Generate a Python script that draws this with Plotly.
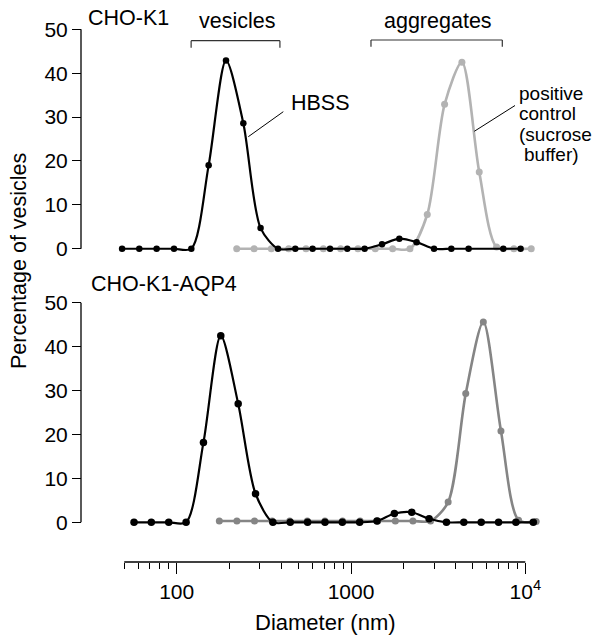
import plotly.graph_objects as go

# The page body adds an 8 px margin, so the figure is drawn 8 px in from the
# top-left corner of the 602x636 window; size the figure to fill the rest.
OFF = 8
W, H = 602 - OFF, 636 - OFF

# ---------------- data ----------------
# Upper panel: CHO-K1
k1_hbss_diam = [48.6, 61.0, 76.7, 96.5, 121.3, 152.5, 191.8, 241.1, 302.9, 381.2,
                479, 602, 758, 952, 1197, 1506, 1893, 2379, 2994, 3763, 4728,
                7477, 9397]
k1_hbss_pct = [0, 0, 0, 0, 0, 19.0, 42.9, 28.6, 4.7, 0,
               0, 0, 0, 0, 0, 1.0, 2.3, 1.5, 0, 0, 0,
               0, 0]
k1_ctrl_diam = [221, 278, 349, 439, 552, 694, 872, 1096, 1378, 1733,
                2179, 2739, 3443, 4329, 5442, 6842, 8602, 10815]
k1_ctrl_pct = [0, 0, 0, 0, 0, 0, 0, 0, 0, 0,
               0, 7.8, 32.9, 42.5, 17.5, 0.4, 0, 0]

# Lower panel: CHO-K1-AQP4
aqp4_hbss_diam = [56.9, 71.5, 90.0, 113.2, 142.4, 179, 225.3, 283.3, 356.3, 448.2,
                  563.6, 709, 891.7, 1121, 1410, 1774, 2231, 2806, 3529, 4439,
                  5585, 7024, 8834, 11111]
aqp4_hbss_pct = [0, 0, 0, 0, 18.2, 42.5, 27.0, 6.5, 0, 0,
                 0, 0, 0, 0, 0.3, 2.0, 2.3, 0.8, 0, 0,
                 0, 0, 0, 0]
aqp4_ctrl_diam = [175.6, 221.5, 279.5, 352.7, 445, 561.5, 708.6, 894, 1128, 1423,
                  1796, 2266, 2860, 3609, 4553, 5745, 7250, 9150, 11545]
aqp4_ctrl_pct = [0.3, 0.3, 0.3, 0.3, 0.3, 0.3, 0.3, 0.3, 0.3, 0.3,
                 0.3, 0.3, 0.3, 4.6, 29.3, 45.6, 20.8, 0.5, 0.2]

x_major = [100, 1000, 10000]
x_major_text = ["100", "1000", "10<sup>4</sup>"]
x_minor = [50, 60, 70, 80, 90, 200, 300, 400, 500, 600, 700, 800, 900,
           2000, 3000, 4000, 5000, 6000, 7000, 8000, 9000]
y_ticks = [0, 10, 20, 30, 40, 50]

# ---------------- styling ----------------
FONT = "Liberation Sans, Arial, Helvetica, sans-serif"
LIGHT_GRAY = "#b3b3b3"
MID_GRAY = "#858585"

fig = go.Figure()

def add_series(x, y, yaxis, color, width, msize):
    fig.add_trace(go.Scatter(
        x=x, y=y, xaxis="x", yaxis=yaxis, mode="lines+markers",
        line=dict(color=color, width=width, shape="spline", smoothing=0.8),
        marker=dict(color=color, size=msize),
        hoverinfo="x+y"))

add_series(k1_ctrl_diam, k1_ctrl_pct, "y", LIGHT_GRAY, 2.6, 7)
add_series(k1_hbss_diam, k1_hbss_pct, "y", "black", 2.2, 6.5)
add_series(aqp4_ctrl_diam, aqp4_ctrl_pct, "y2", MID_GRAY, 2.6, 7)
add_series(aqp4_hbss_diam, aqp4_hbss_pct, "y2", "black", 2.2, 7.5)

def px(x):
    return (x - OFF) / W

def py(y):
    return 1 - (y - OFF) / H

axis_common = dict(showgrid=False, zeroline=False, showline=False,
                   ticks="outside", tickcolor="black", tickwidth=1.3,
                   tickfont=dict(size=21, family=FONT, color="black"))

fig.update_layout(
    width=W, height=H,
    margin=dict(l=0, r=0, t=0, b=0),
    paper_bgcolor="white", plot_bgcolor="white",
    showlegend=False,
    font=dict(family=FONT, size=21, color="black"),
    xaxis=dict(type="log", domain=[px(81), px(560)], range=[1.45094, 4.19908],
               anchor="free", position=py(562),
               tickmode="array", tickvals=x_major, ticktext=x_major_text,
               ticklen=11,
               minor=dict(tickmode="array", tickvals=x_minor, ticks="outside",
                          ticklen=6, tickwidth=1.3, tickcolor="black", showgrid=False),
               automargin=False, **axis_common),
    yaxis=dict(domain=[py(261.9), py(24.9)], range=[-3, 51], anchor="free",
               position=px(81), tickmode="array", tickvals=y_ticks, ticklen=9,
               automargin=False, **axis_common),
    yaxis2=dict(domain=[py(535.5), py(298.3)], range=[-3, 51], anchor="free",
                position=px(81), tickmode="array", tickvals=y_ticks, ticklen=9,
                automargin=False, **axis_common),
)

shapes = []
# axis lines
shapes.append(dict(type="line", xref="x", yref="paper", x0=50, x1=10000,
                   y0=py(562), y1=py(562), line=dict(color="black", width=1.3)))
shapes.append(dict(type="line", xref="paper", yref="y", x0=px(81), x1=px(81),
                   y0=0, y1=50, line=dict(color="black", width=1.3)))
shapes.append(dict(type="line", xref="paper", yref="y2", x0=px(81), x1=px(81),
                   y0=0, y1=50, line=dict(color="black", width=1.3)))
# brackets
for (a, b, yl, yt) in [(121, 391, 40.7, 47.7), (1302, 7380, 40.0, 46.7)]:
    shapes.append(dict(type="line", xref="x", yref="paper", x0=a, x1=b,
                       y0=py(yl), y1=py(yl), line=dict(color="#333333", width=1.2)))
    for xx in (a, b):
        shapes.append(dict(type="line", xref="x", yref="paper", x0=xx, x1=xx,
                           y0=py(yl), y1=py(yt), line=dict(color="#333333", width=1.2)))
# leader lines
shapes.append(dict(type="line", xref="paper", yref="paper",
                   x0=px(248.3), y0=py(136.7), x1=px(283.3), y1=py(111.7),
                   line=dict(color="black", width=1)))
shapes.append(dict(type="line", xref="paper", yref="paper",
                   x0=px(474.3), y0=py(131.3), x1=px(515), y1=py(105.5),
                   line=dict(color="black", width=1)))
fig.update_layout(shapes=shapes)

def note(text, x, y, xanchor="left", size=21.5, angle=0):
    fig.add_annotation(text=text, xref="paper", yref="paper", x=px(x), y=py(y),
                       xanchor=xanchor, yanchor="middle", showarrow=False,
                       textangle=angle, borderpad=0,
                       font=dict(size=size, family=FONT, color="black"))

note("CHO-K1", 87, 18)
note("CHO-K1-AQP4", 90, 284)
note("vesicles", 236.5, 21, xanchor="center")
note("aggregates", 437.5, 20.5, xanchor="center")
note("HBSS", 290, 102.5)
note("positive", 518, 94, size=19)
note("control", 518, 114, size=19)
note("(sucrose", 518, 134, size=19)
note("buffer)", 523, 154, size=19)
note("Percentage of vesicles", 19, 261, xanchor="center", angle=-90)
note("Diameter (nm)", 325, 622, xanchor="center", size=22)

fig.write_html("out.html")
